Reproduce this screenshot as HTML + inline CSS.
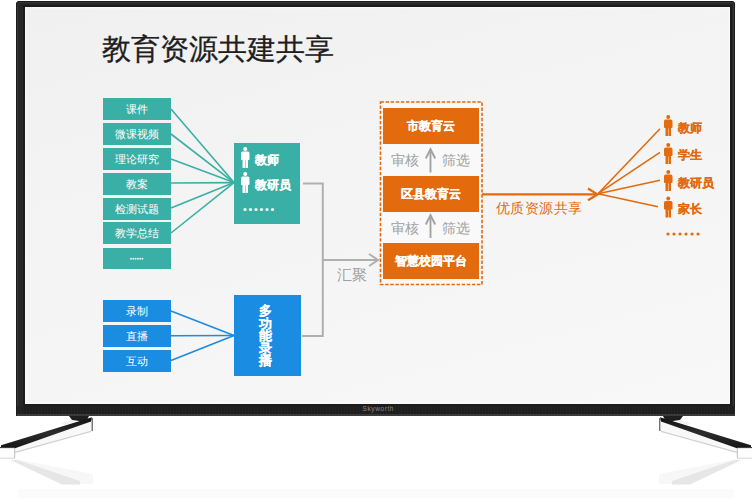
<!DOCTYPE html>
<html><head><meta charset="utf-8">
<style>
*{margin:0;padding:0;box-sizing:border-box}
html,body{width:753px;height:502px;overflow:hidden;background:#fff;font-family:"Liberation Sans",sans-serif}
.a{position:absolute}
#bezel{left:16px;top:1px;width:719px;height:415px;background:#272727;border-radius:4px 4px 1px 1px;box-shadow:inset 0 0 0 1px #1b1b1b,inset 0 0 0 2px #363636}
#screen{left:25px;top:7px;width:705px;height:397px;background:linear-gradient(165deg,#f0f0f0 0%,#f4f4f4 45%,#f8f8f8 100%);box-shadow:0 0 0 2px #1c1c1c,inset 0 0 2px 1px #fbfbfb}
.t{color:#fff;text-align:center;white-space:nowrap}
.sk{-webkit-text-stroke:0.2px #fff}
.tb{left:103px;width:68px;height:21.5px;background:#3aafa5;font-size:11px;line-height:22.5px}
.bb{left:103px;width:68px;height:21.5px;background:#1a8ce1;font-size:11px;line-height:22.5px}
.ob{left:383px;width:96px;height:36px;background:#e36a0d;font-size:12px;font-weight:bold;line-height:37px;-webkit-text-stroke:0.2px #fff}
.gr{color:#a0a0a0;font-size:14px;white-space:nowrap}
.or{color:#e36a0d;font-size:11.5px;font-weight:bold;white-space:nowrap;-webkit-text-stroke:0.25px #e36a0d}
</style></head><body>
<div id="bezel" class="a"></div>
<div id="screen" class="a"></div>


<!-- bezel bottom strip -->
<div class="a" style="left:17px;top:406px;width:718px;height:8px;background:repeating-linear-gradient(90deg,#242424 0 1.5px,#1e1e1e 1.5px 3px)"></div>
<div class="a" style="left:17px;top:414px;width:718px;height:2px;background:#3a3a3a"></div>
<div class="a" style="left:362.5px;top:404.5px;font-size:6.5px;color:#8a8a8a;white-space:nowrap;letter-spacing:0.6px">Skyworth</div>
<svg class="a" style="left:0;top:0" width="753" height="502">
  <!-- left stand -->
  <defs><linearGradient id="bandg" x1="0" y1="0" x2="0" y2="1"><stop offset="0" stop-color="#111"/><stop offset="0.5" stop-color="#2c2c2c"/><stop offset="1" stop-color="#151515"/></linearGradient></defs>
  <polygon points="92.5,419 15,447.5 15,452.5 91,431.5 92.5,431.5" fill="#f8f8f8"/>
  <polygon points="91,430.8 15,451.8 15,453 91,432" fill="#cfcfcf"/>
  <polygon points="89,416 69,416 72,420 86,422" fill="#1f1f1f"/>
  <polygon points="92,417.3 1,445.3 1,447.8 15,448.2 91,421.5" fill="url(#bandg)"/>
  <polygon points="72,420.5 62,423.5 64,425 74,422" fill="#eeeeee"/>
  <rect x="0" y="447" width="15" height="11.5" fill="#fdfdfd"/>
  <line x1="15" y1="447.6" x2="0" y2="447.6" stroke="#2a2a2a" stroke-width="1"/>
  <line x1="15" y1="458.2" x2="0" y2="458.2" stroke="#d5d5d5" stroke-width="1"/>
  <line x1="14.7" y1="448" x2="14.7" y2="458" stroke="#bdbdbd" stroke-width="1"/>
  <line x1="92.2" y1="418" x2="92.2" y2="431" stroke="#3c3c3c" stroke-width="1"/>
  <polygon points="15,459 93,474 93,484 80,484" fill="#f7f7f7"/>
  <polygon points="10.6,460 17.3,460 80,481 80,484.5 62,484.5" fill="#e6e6e6"/>
  <!-- right stand -->
  <polygon points="659.5,419 737,447.5 737,452.5 661,431.5 659.5,431.5" fill="#f8f8f8"/>
  <polygon points="661,430.8 737,451.8 737,453 661,432" fill="#cfcfcf"/>
  <polygon points="663,416 683,416 680,420 666,422" fill="#1f1f1f"/>
  <polygon points="660,417.3 751,445.3 751,447.8 737,448.2 661,421.5" fill="url(#bandg)"/>
  <polygon points="680,420.5 690,423.5 688,425 678,422" fill="#eeeeee"/>
  <rect x="737" y="447" width="15" height="11.5" fill="#fdfdfd"/>
  <line x1="737" y1="447.6" x2="752" y2="447.6" stroke="#2a2a2a" stroke-width="1"/>
  <line x1="737" y1="458.2" x2="752" y2="458.2" stroke="#d5d5d5" stroke-width="1"/>
  <line x1="737.3" y1="448" x2="737.3" y2="458" stroke="#bdbdbd" stroke-width="1"/>
  <line x1="659.8" y1="418" x2="659.8" y2="431" stroke="#3c3c3c" stroke-width="1"/>
  <polygon points="737,459 659,474 659,484 672,484" fill="#f7f7f7"/>
  <polygon points="741.4,460 734.7,460 672,481 672,484.5 690,484.5" fill="#e6e6e6"/>
  <rect x="18" y="489" width="716" height="9" fill="#fbfbfb"/>
</svg>

<!-- title -->
<div class="a" style="left:101.8px;top:30px;font-size:29px;color:#1e1e1e;white-space:nowrap;letter-spacing:0.1px;-webkit-text-stroke:0.3px #1e1e1e">教育资源共建共享</div>

<!-- teal list -->
<div class="a t tb" style="top:98px">课件</div>
<div class="a t tb" style="top:123px">微课视频</div>
<div class="a t tb" style="top:148px">理论研究</div>
<div class="a t tb" style="top:173px">教案</div>
<div class="a t tb" style="top:198px">检测试题</div>
<div class="a t tb" style="top:222px">教学总结</div>
<div class="a tb" style="top:248px;height:21px"></div>

<!-- teal person box -->
<div class="a" style="left:234px;top:142.5px;width:66.2px;height:81.7px;background:#3aafa5"></div>
<div class="a t sk" style="left:254.5px;top:152px;font-size:12px;font-weight:bold">教师</div>
<div class="a t sk" style="left:254.5px;top:177px;font-size:12px;font-weight:bold">教研员</div>

<!-- blue list -->
<div class="a t bb" style="top:300px">录制</div>
<div class="a t bb" style="top:325px">直播</div>
<div class="a t bb" style="top:350px">互动</div>
<div class="a" style="left:234.3px;top:294.8px;width:67px;height:81.7px;background:#1a8ce1"></div>
<div class="a t sk" style="left:258.7px;top:305px;width:14px;font-size:12.5px;font-weight:bold;line-height:12.5px;white-space:normal">多功能录播</div>

<!-- orange column -->
<div class="a" style="left:381px;top:102.5px;width:100.5px;height:181.5px;background:#f9f9f9"></div>
<div class="a ob t" style="top:108px">市教育云</div>
<div class="a ob t" style="top:175.5px">区县教育云</div>
<div class="a ob t" style="top:243px">智慧校园平台</div>
<div class="a gr" style="left:391px;top:152px">审核</div>
<div class="a gr" style="left:442px;top:152px">筛选</div>
<div class="a gr" style="left:391px;top:220px">审核</div>
<div class="a gr" style="left:442px;top:220px">筛选</div>
<div class="a gr" style="left:337px;top:266px;font-size:14.5px">汇聚</div>
<div class="a" style="left:495.5px;top:200px;font-size:14px;letter-spacing:0.5px;color:#e36a0d;white-space:nowrap">优质资源共享</div>

<div class="a or" style="left:677.5px;top:121px">教师</div>
<div class="a or" style="left:677.5px;top:148px">学生</div>
<div class="a or" style="left:677.5px;top:176px">教研员</div>
<div class="a or" style="left:677.5px;top:202px">家长</div>

<svg class="a" style="left:0;top:0" width="753" height="502">
  <defs>
    <g id="person">
      <circle cx="4.25" cy="2" r="2"/>
      <path d="M1.6 4.6 H6.9 Q8.5 4.6 8.5 6.4 V12.2 Q8.5 13 7.6 13 H7 V21 H4.5 V13.5 H4 V21 H1.5 V13 H0.9 Q0 13 0 12.2 V6.4 Q0 4.6 1.6 4.6Z"/>
    </g>
  </defs>
  <!-- teal lines -->
  <g stroke="#3aafa5" stroke-width="1.6" fill="none">
    <line x1="171" y1="109" x2="234" y2="182.6"/>
    <line x1="171" y1="134" x2="234" y2="182.6"/>
    <line x1="171" y1="159" x2="234" y2="182.6"/>
    <line x1="171" y1="183" x2="234" y2="182.6"/>
    <line x1="171" y1="208" x2="234" y2="182.6"/>
    <line x1="171" y1="233" x2="234" y2="182.6"/>
  </g>
  <!-- blue lines -->
  <g stroke="#1a8ce1" stroke-width="1.6" fill="none">
    <line x1="171" y1="311" x2="234" y2="335.5"/>
    <line x1="171" y1="335.7" x2="234" y2="335.5"/>
    <line x1="171" y1="360.5" x2="234" y2="335.5"/>
  </g>
  <g fill="#e8f4f2"><circle cx="131.0" cy="258.7" r="0.95"/><circle cx="133.3" cy="258.7" r="0.95"/><circle cx="135.6" cy="258.7" r="0.95"/><circle cx="137.9" cy="258.7" r="0.95"/><circle cx="140.2" cy="258.7" r="0.95"/><circle cx="142.5" cy="258.7" r="0.95"/></g>
  <!-- teal person icons -->
  <g fill="#fff">
    <use href="#person" x="241" y="147"/>
    <use href="#person" x="241" y="172"/>
    <circle cx="245" cy="209.5" r="1.6"/><circle cx="250.5" cy="209.5" r="1.6"/><circle cx="256" cy="209.5" r="1.6"/>
    <circle cx="261.5" cy="209.5" r="1.6"/><circle cx="267" cy="209.5" r="1.6"/><circle cx="272.5" cy="209.5" r="1.6"/>
  </g>
  <!-- gray connector -->
  <g stroke="#afafaf" stroke-width="2" fill="none">
    <polyline points="303,183.5 322.8,183.5 322.8,336 302,336"/>
    <line x1="322.8" y1="260" x2="377" y2="260"/>
    <polyline points="369,254 378,260 369,266"/>
  </g>
  <!-- small up arrows -->
  <g stroke="#a3a3a3" stroke-width="1.9" fill="none">
    <line x1="430.5" y1="149.5" x2="430.5" y2="172.5"/>
    <polyline points="425.8,158.5 430.5,149.2 435.2,158.5"/>
    <line x1="430.5" y1="215.5" x2="430.5" y2="238"/>
    <polyline points="425.8,224.5 430.5,215.2 435.2,224.5"/>
  </g>
  <!-- dashed box -->
  <rect x="380.5" y="102" width="101.5" height="182.5" fill="none" stroke="#e36a0d" stroke-width="1.6" stroke-dasharray="3.4,1.7"/>
  <!-- orange arrow -->
  <g stroke="#e36a0d" stroke-width="2.2" fill="none">
    <line x1="482" y1="194.4" x2="597" y2="194.4"/>
    <polyline points="588,188.5 597.5,194.4 588,200.3"/>
  </g>
  <g stroke="#e36a0d" stroke-width="1.6" fill="none">
    <line x1="598" y1="193.7" x2="660" y2="128.7"/>
    <line x1="598" y1="193.7" x2="660" y2="152.4"/>
    <line x1="598" y1="193.7" x2="660" y2="180.3"/>
    <line x1="598" y1="193.7" x2="658" y2="206.8"/>
  </g>
  <g fill="#e36a0d">
    <use href="#person" x="664" y="115"/>
    <use href="#person" x="664" y="143"/>
    <use href="#person" x="664" y="170"/>
    <use href="#person" x="664" y="196.5"/>
    <circle cx="668" cy="234" r="1.6"/><circle cx="674" cy="234" r="1.6"/><circle cx="680" cy="234" r="1.6"/>
    <circle cx="686" cy="234" r="1.6"/><circle cx="692" cy="234" r="1.6"/><circle cx="698" cy="234" r="1.6"/>
  </g>
</svg>
</body></html>
